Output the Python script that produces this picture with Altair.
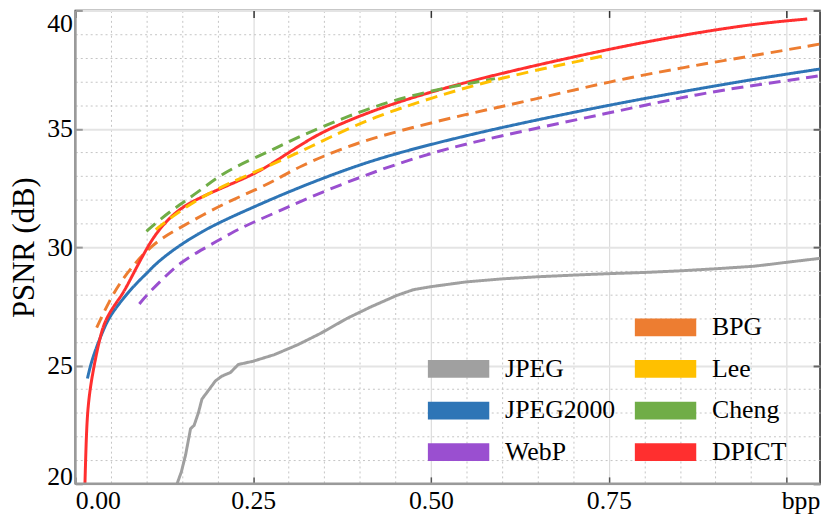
import altair as alt
import pandas as pd

FONT = "Liberation Serif"

# ---------------- data ----------------
jpeg_bpp = [0.143, 0.149, 0.155, 0.162, 0.167, 0.173, 0.178, 0.185, 0.197, 0.206, 0.218,
            0.229, 0.25, 0.28, 0.313, 0.345, 0.382, 0.415, 0.452, 0.475, 0.5, 0.549, 0.6,
            0.651, 0.702, 0.75, 0.8, 0.851, 0.902, 0.953, 0.976, 1.0, 1.048]
jpeg_psnr = [20.0, 20.5, 21.22, 22.33, 22.47, 23.0, 23.58, 23.86, 24.35, 24.55, 24.7,
             25.04, 25.18, 25.46, 25.88, 26.36, 26.99, 27.47, 27.96, 28.2, 28.33, 28.53, 28.66,
             28.75, 28.82, 28.88, 28.93, 29.0, 29.09, 29.19, 29.27, 29.36, 29.53]

j2k_bpp = [0.017, 0.022, 0.03, 0.04, 0.048, 0.06, 0.072, 0.085, 0.104, 0.113, 0.141, 0.178,
           0.215, 0.252, 0.3, 0.405, 0.5, 0.595, 0.75, 0.879, 0.973, 1.05]
j2k_psnr = [24.45, 25.1, 25.8, 26.55, 27.05, 27.55, 28.0, 28.45, 29.0, 29.3, 29.97, 30.67,
            31.22, 31.71, 32.35, 33.58, 34.35, 35.04, 36.01, 36.71, 37.19, 37.54]

webp_bpp = [0.09, 0.1, 0.12, 0.15, 0.183, 0.22, 0.252, 0.285, 0.32, 0.405, 0.5, 0.595,
            0.75, 0.879, 0.973, 1.05]
webp_psnr = [27.6, 27.96, 28.58, 29.42, 29.97, 30.62, 31.08, 31.5, 31.99, 33.03, 34.0, 34.69,
             35.67, 36.5, 36.92, 37.26]

bpg_bpp = [0.03, 0.048, 0.065, 0.081, 0.095, 0.118, 0.146, 0.183, 0.22, 0.257, 0.285, 0.311,
           0.382, 0.453, 0.547, 0.642, 0.75, 0.855, 0.973, 1.05]
bpg_psnr = [26.6, 27.75, 28.6, 29.2, 29.7, 30.32, 30.8, 31.43, 31.99, 32.47, 32.89, 33.35,
            34.28, 34.9, 35.6, 36.22, 36.99, 37.6, 38.19, 38.6]

lee_bpp = [0.113, 0.136, 0.16, 0.187, 0.215, 0.252, 0.311, 0.358, 0.42, 0.5, 0.595, 0.746]
lee_psnr = [30.74, 31.29, 31.78, 32.26, 32.68, 33.17, 33.95, 34.65, 35.5, 36.3, 37.15, 38.1]

cheng_bpp = [0.1, 0.12, 0.146, 0.174, 0.206, 0.243, 0.28, 0.313, 0.382, 0.467, 0.59]
cheng_psnr = [30.67, 31.2, 31.78, 32.36, 33.1, 33.65, 34.15, 34.65, 35.53, 36.43, 37.12]

dpict_bpp = [0.0135, 0.0149, 0.0167, 0.0205, 0.027, 0.034, 0.041, 0.053, 0.067, 0.081, 0.095,
             0.109, 0.127, 0.15, 0.183, 0.22, 0.252, 0.275, 0.311, 0.348, 0.42, 0.5, 0.595,
             0.75, 0.855, 0.955, 1.029]
dpict_psnr = [20.0, 21.5, 22.9, 24.0, 25.1, 26.1, 26.85, 27.47, 28.03, 28.85, 29.65,
              30.39, 31.08, 31.71, 32.2, 32.68, 33.1, 33.5, 34.21, 34.9, 35.8, 36.57, 37.33,
              38.375, 38.97, 39.44, 39.64]

left_names = ["JPEG", "JPEG2000", "WebP"]
left_colors = ["#a0a0a0", "#2e75b6", "#9a4fd0"]
right_names = ["BPG", "Lee", "Cheng", "DPICT"]
right_colors = ["#ed7d31", "#ffc000", "#70ad47", "#ff2f2f"]

x_major = [0.0, 0.25, 0.5, 0.75, 1.0]
x_minor = [0.05, 0.1, 0.15, 0.2, 0.3, 0.35, 0.4, 0.45, 0.55, 0.6, 0.65, 0.7, 0.8, 0.85, 0.9, 0.95]
y_major = [20, 25, 30, 35, 40]
y_minor = [21, 22, 23, 24, 26, 27, 28, 29, 31, 32, 33, 34, 36, 37, 38, 39]


def frame(name, bpp, psnr, dash):
    return pd.DataFrame({"codec": name, "bpp": bpp, "psnr": psnr, "dash": dash})


jpeg_df = frame("JPEG", jpeg_bpp, jpeg_psnr, "solid")
left_df = pd.concat([
    frame("JPEG2000", j2k_bpp, j2k_psnr, "solid"),
    frame("WebP", webp_bpp, webp_psnr, "dashed"),
], ignore_index=True)
right_df = pd.concat([
    frame("BPG", bpg_bpp, bpg_psnr, "dashed"),
    frame("DPICT", dpict_bpp, dpict_psnr, "solid"),
    frame("Cheng", cheng_bpp, cheng_psnr, "dashed"),
    frame("Lee", lee_bpp, lee_psnr, "dashed"),
], ignore_index=True)
edge_df = pd.DataFrame({"bpp": [0.0], "psnr": [20.0]})

xs = alt.Scale(domain=[0, 1.047], nice=False, zero=False)
ys = alt.Scale(domain=[20, 40], nice=False, zero=False)
dash_scale = alt.Scale(domain=["solid", "dashed"], range=[[1, 0], [12, 7]])
left_color_scale = alt.Scale(domain=left_names, range=left_colors)

# ---------------- grid layers ----------------
minor_grid = alt.Chart(left_df).mark_point(opacity=0).encode(
    x=alt.X("bpp:Q", scale=xs, axis=alt.Axis(orient="bottom", values=x_minor, grid=True,
            gridDash=[2, 3], gridColor="#c4c4c4", gridWidth=1, labels=False, ticks=False,
            domain=False, title=None)),
    y=alt.Y("psnr:Q", scale=ys, axis=alt.Axis(orient="left", values=y_minor, grid=True,
            gridDash=[2, 3], gridColor="#c4c4c4", gridWidth=1, labels=False, ticks=False,
            domain=False, title=None)),
)

major_grid = alt.Chart(left_df).mark_point(opacity=0).encode(
    x=alt.X("bpp:Q", scale=xs, axis=alt.Axis(orient="bottom", values=x_major, grid=True,
            gridColor="#dcdcdc", gridWidth=1.2, labels=False, ticks=False,
            domain=False, title=None)),
    y=alt.Y("psnr:Q", scale=ys, axis=alt.Axis(orient="left", values=y_major, grid=True,
            gridColor="#e4e4e4", gridWidth=2, labels=False, ticks=False,
            domain=False, title=None)),
)

legend_common = dict(
    title=None, orient="none", symbolType="stroke", symbolSize=3844, symbolStrokeWidth=18,
    clipHeight=30, rowPadding=12, labelOffset=7, padding=0,
    labelFont=FONT, labelFontSize=26, labelColor="black", labelLimit=300,
)
left_legend = alt.Legend(legendX=347, legendY=347, **legend_common)

# ---------------- curves ----------------
jpeg_line = alt.Chart(jpeg_df).mark_line(interpolate="linear", clip=True).encode(
    x=alt.X("bpp:Q", scale=xs, axis=None),
    y=alt.Y("psnr:Q", scale=ys, axis=None),
    color=alt.Color("codec:N", scale=left_color_scale, legend=left_legend),
    strokeDash=alt.StrokeDash("dash:N", scale=dash_scale, legend=None),
    strokeWidth=alt.value(3),
)

left_lines = alt.Chart(left_df).mark_line(interpolate="basis", clip=True).encode(
    x=alt.X("bpp:Q", scale=xs, axis=alt.Axis(
        orient="bottom", values=x_major, grid=False, domain=False, offset=-7, tickSize=7,
        tickColor="#555", tickWidth=1.5, labelPadding=4, labelFlush=True,
        labelFont=FONT, labelFontSize=26, labelColor="black",
        labelExpr="datum.value >= 1 ? 'bpp' : format(datum.value, '.2f')",
        labelOffset={"condition": {"test": "datum.value >= 1", "value": 14}, "value": 0},
        title=None)),
    y=alt.Y("psnr:Q", scale=ys, axis=alt.Axis(
        orient="left", values=y_major, grid=False, domain=False, offset=-7, tickSize=7,
        tickColor="#999", tickWidth=2, labelPadding=3, labelFlush=True, labelFlushOffset=0,
        labelOffset={"condition": {"test": "datum.value <= 20", "value": 6}, "value": 0},
        labelFont=FONT, labelFontSize=26, labelColor="black", format="d",
        title="PSNR (dB)", titleFont=FONT, titleFontSize=31, titleFontWeight="normal",
        titleColor="black", titlePadding=6)),
    color=alt.Color("codec:N", scale=left_color_scale, legend=left_legend),
    strokeDash=alt.StrokeDash("dash:N", scale=dash_scale, legend=None),
    strokeWidth=alt.value(3),
)

right_lines = alt.Chart(right_df).mark_line(interpolate="basis", clip=True).encode(
    x=alt.X("bpp:Q", scale=xs, axis=None),
    y=alt.Y("psnr:Q", scale=ys, axis=None),
    stroke=alt.Stroke("codec:N", scale=alt.Scale(domain=right_names, range=right_colors),
                      legend=alt.Legend(legendX=556, legendY=305, **legend_common)),
    strokeDash=alt.StrokeDash("dash:N", scale=dash_scale, legend=None),
    strokeWidth=alt.value(3),
)

# ---------------- frame: gray left/bottom axis lines, inward ticks on top/right ----------------
left_edge = alt.Chart(edge_df).mark_rule(color="#9a9a9a", strokeWidth=2.5).encode(
    x=alt.X("bpp:Q", scale=xs, axis=alt.Axis(
        orient="top", values=x_major, grid=False, domain=False, labels=False, offset=-7,
        tickSize=7, tickColor="#333", tickWidth=1.5, title=None)),
)
bottom_edge = alt.Chart(edge_df).mark_rule(color="#9a9a9a", strokeWidth=2.5).encode(
    y=alt.Y("psnr:Q", scale=ys, axis=alt.Axis(
        orient="right", values=y_major, grid=False, domain=False, labels=False, offset=-7,
        tickSize=7, tickColor="#666", tickWidth=2, title=None)),
)

chart = alt.layer(
    minor_grid, major_grid, jpeg_line, left_lines, right_lines, left_edge, bottom_edge
).resolve_axis(
    x="independent", y="independent"
).resolve_scale(
    x="shared", y="shared"
).properties(
    width=752, height=478,
    padding={"left": 68, "top": 0, "right": 3, "bottom": 30},
    autosize=alt.AutoSizeParams(type="none"),
).configure_view(
    stroke="#222", strokeWidth=1.5
)

chart.save("out.html", embed_options={"renderer": "svg", "actions": False})
